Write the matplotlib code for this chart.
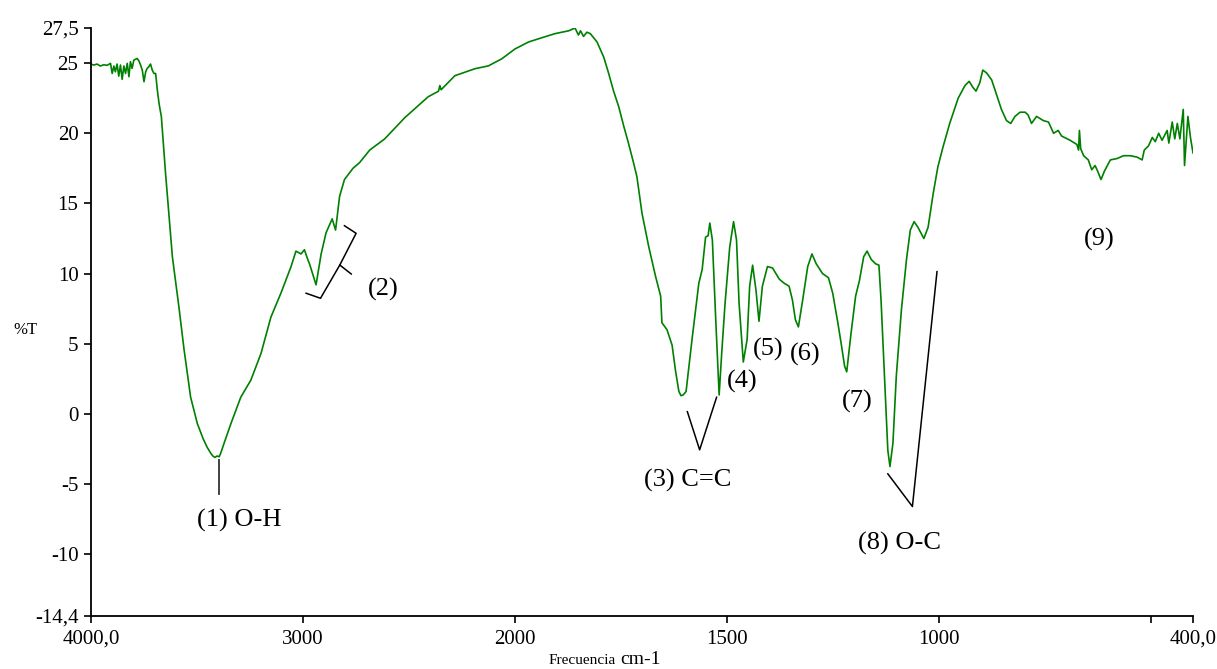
import numpy as np
import matplotlib
matplotlib.use("Agg")
import matplotlib.pyplot as plt

plt.rcParams['font.family'] = ['Liberation Serif', 'DejaVu Serif']

# ---- data ----
wavenumber = [
    4000, 3987, 3971, 3956, 3940, 3924, 3908, 3900, 3892, 3885, 3877, 3869, 3861, 3853,
    3845, 3837, 3829, 3821, 3814, 3806, 3798, 3782, 3774, 3766, 3758, 3750, 3742, 3735,
    3727, 3719, 3711, 3703, 3695, 3687, 3679, 3668, 3648, 3616, 3585, 3561, 3530, 3498,
    3470, 3451, 3435, 3425, 3415, 3405, 3395, 3388, 3370, 3340, 3293, 3246, 3198, 3151,
    3104, 3056, 3033, 3009, 2993,
    2977, 2969, 2938, 2914, 2891, 2862, 2846, 2827, 2804, 2764, 2733, 2685, 2614, 2520,
    2409, 2360, 2354, 2348, 2283, 2188, 2125, 2062, 2000, 1968, 1937, 1905, 1873, 1858,
    1850, 1845, 1838, 1830, 1822, 1806, 1790, 1779, 1767, 1755, 1743, 1732, 1720, 1712, 1700, 1684,
    1668, 1656, 1653, 1641, 1629, 1621, 1613, 1608, 1603, 1596, 1582, 1566, 1558, 1550, 1544,
    1540, 1534, 1526, 1518, 1512, 1504, 1493, 1484, 1477, 1471, 1461, 1452, 1446, 1439,
    1431, 1424, 1416, 1404, 1392, 1376, 1364, 1353, 1345, 1338, 1331, 1321, 1309, 1299,
    1289, 1274, 1260, 1250, 1238, 1230, 1222, 1217, 1207, 1196, 1187, 1177, 1169, 1159,
    1149, 1141, 1136, 1128, 1120, 1115, 1108, 1100, 1088, 1076, 1067, 1058, 1049, 1035,
    1025, 1013, 1002, 990, 974, 954, 938, 928, 920, 912, 903, 896, 887, 875, 863, 852,
    840, 830, 820, 808, 796, 789, 781, 769, 753, 741, 729, 718, 710, 690, 674, 670, 668,
    665, 658, 647, 639, 631, 625, 617, 609, 595, 579, 564, 548, 532, 520, 515, 505, 496,
    489, 481, 473, 461, 457, 449, 443, 437, 431, 423, 420, 412, 406, 400,
]
transmittance = [
    24.93, 24.86, 24.93, 24.79, 24.88, 24.84, 24.98, 24.26, 24.79, 24.38, 24.93, 24.07, 24.86, 23.84,
    24.79, 24.26, 24.98, 24.03, 25.10, 24.62, 25.21, 25.33, 25.16, 24.86, 24.50, 23.67, 24.38, 24.62,
    24.74, 24.93, 24.50, 24.26, 24.26, 23.08, 22.13, 21.18, 17.1, 11.2, 7.6, 4.6, 1.2, -0.7,
    -1.8, -2.4, -2.8, -3.0, -3.1, -3.0, -3.05, -2.8, -2.0, -0.7, 1.2, 2.4, 4.3, 6.9,
    8.6, 10.5, 11.6, 11.4, 11.7,
    11.0, 10.7, 9.2, 11.4, 12.9, 13.9, 13.1, 15.5, 16.7, 17.5, 17.9, 18.8, 19.6, 21.1,
    22.6, 23.0, 23.4, 23.1, 24.1, 24.6, 24.8, 25.3, 26.0, 26.5, 26.8, 27.1, 27.3, 27.5,
    27.0, 27.3, 26.9, 27.2, 27.1, 26.5, 25.4, 24.3, 23.0, 21.9, 20.5, 19.3, 17.9, 16.9, 14.3, 11.9,
    9.8, 8.4, 6.5, 6.0, 4.9, 3.1, 1.6, 1.3, 1.35, 1.6, 5.3, 9.3, 10.3, 12.6, 12.7,
    13.6, 12.4, 6.7, 1.35, 4.3, 7.9, 11.9, 13.7, 12.4, 7.9, 3.7, 5.3, 9.1, 10.6,
    8.8, 6.6, 9.1, 10.5, 10.4, 9.6, 9.3, 9.1, 8.1, 6.7, 6.2, 8.1, 10.5, 11.4,
    10.7, 10.0, 9.7, 8.6, 6.5, 5.0, 3.4, 3.0, 5.7, 8.4, 9.5, 11.2, 11.6, 11.0,
    10.7, 10.6, 8.1, 2.7, -2.6, -3.75, -2.1, 2.7, 7.4, 11.0, 13.1, 13.7, 13.3, 12.5,
    13.3, 15.7, 17.6, 19.0, 20.7, 22.5, 23.4, 23.7, 23.3, 23.0, 23.6, 24.5, 24.3, 23.8, 22.7, 21.7,
    20.9, 20.7, 21.2, 21.5, 21.5, 21.3, 20.7, 21.2, 20.9, 20.8, 20.0, 20.2, 19.8, 19.5, 19.2, 18.8, 20.2,
    18.9, 18.4, 18.1, 17.4, 17.7, 17.3, 16.7, 17.3, 18.1, 18.2, 18.4, 18.4, 18.3, 18.1, 18.8, 19.1, 19.7,
    19.4, 20.0, 19.5, 20.2, 19.3, 20.8, 19.6, 20.7, 19.6, 21.7, 17.7, 21.2, 19.7, 18.6,
]

x_ticks = [4000, 3000, 2000, 1500, 1000, 500, 400]
x_tick_labels = ["4000,0", "3000", "2000", "1500", "1000", "", "400,0"]
y_ticks = [27.5, 25, 20, 15, 10, 5, 0, -5, -10, -14.4]
y_tick_labels = ["27,5", "25", "20", "15", "10", "5", "0", "-5", "-10", "-14,4"]


# x scale: above 2000 cm-1 compressed by a factor 2
def fwd(x):
    x = np.asarray(x, dtype=float)
    return np.where(x > 2000, 2000 + (x - 2000) / 2.0, x)


def inv(y):
    y = np.asarray(y, dtype=float)
    return np.where(y > 2000, 2000 + (y - 2000) * 2.0, y)


fig = plt.figure(figsize=(12.17, 6.69), dpi=100)
ax = fig.add_axes([91 / 1217, 1 - 616 / 669, (1193 - 91) / 1217, (616 - 28) / 669])
ax.set_xscale('function', functions=(fwd, inv))
ax.plot(wavenumber, transmittance, color='#008000', lw=1.2)
ax.set_xlim(4000, 400)
ax.set_ylim(-14.4, 27.5)

ax.set_xticks(x_ticks)
ax.set_xticklabels(x_tick_labels)
ax.set_yticks(y_ticks)
ax.set_yticklabels(y_tick_labels)
ax.xaxis.set_minor_locator(matplotlib.ticker.NullLocator())
ax.tick_params(axis='both', labelsize=15, length=5, width=1.2, color='black', direction='out')
ax.tick_params(axis='y', pad=4)
ax.tick_params(axis='x', pad=5)
for s in ['top', 'right']:
    ax.spines[s].set_visible(False)
for s in ['left', 'bottom']:
    ax.spines[s].set_linewidth(1.3)

# annotations
afs = 19
lk = dict(color='black', lw=1.1)
ax.plot([3394, 3394], [-3.28, -5.7], color='#333333', lw=1.3)
ax.text(3300, -7.6, "(1) O-H", fontsize=afs, ha='center', va='center')

ax.plot([2804, 2749, 2826, 2917, 2985], [13.41, 12.87, 10.61, 8.24, 8.60], **lk)
ax.plot([2826, 2772], [10.61, 9.97], **lk)
ax.text(2622, 8.9, "(2)", fontsize=afs, ha='center', va='center')

ax.plot([1593, 1564, 1524], [0.16, -2.56, 1.19], **lk)
ax.text(1593, -4.75, "(3) C=C", fontsize=afs, ha='center', va='center')
ax.text(1463, 2.3, "(4)", fontsize=afs, ha='center', va='center')
ax.text(1402, 4.56, "(5)", fontsize=afs, ha='center', va='center')
ax.text(1315, 4.27, "(6)", fontsize=afs, ha='center', va='center')
ax.text(1193, 0.88, "(7)", fontsize=afs, ha='center', va='center')
ax.plot([1120, 1062, 1004], [-4.27, -6.6, 10.14], **lk)
ax.text(1092, -9.2, "(8) O-C", fontsize=afs, ha='center', va='center')
ax.text(621, 12.4, "(9)", fontsize=afs, ha='center', va='center')

fig.text(25 / 1217, 1 - 330 / 669, "%T", fontsize=12, ha='center', va='center')
fig.text(616 / 1217, 1 - 661 / 669, "Frecuencia", fontsize=11, ha='right', va='center')
fig.text(620 / 1217, 1 - 660 / 669, "cm-1", fontsize=14, ha='left', va='center')

fig.savefig("out.png", dpi=100)
